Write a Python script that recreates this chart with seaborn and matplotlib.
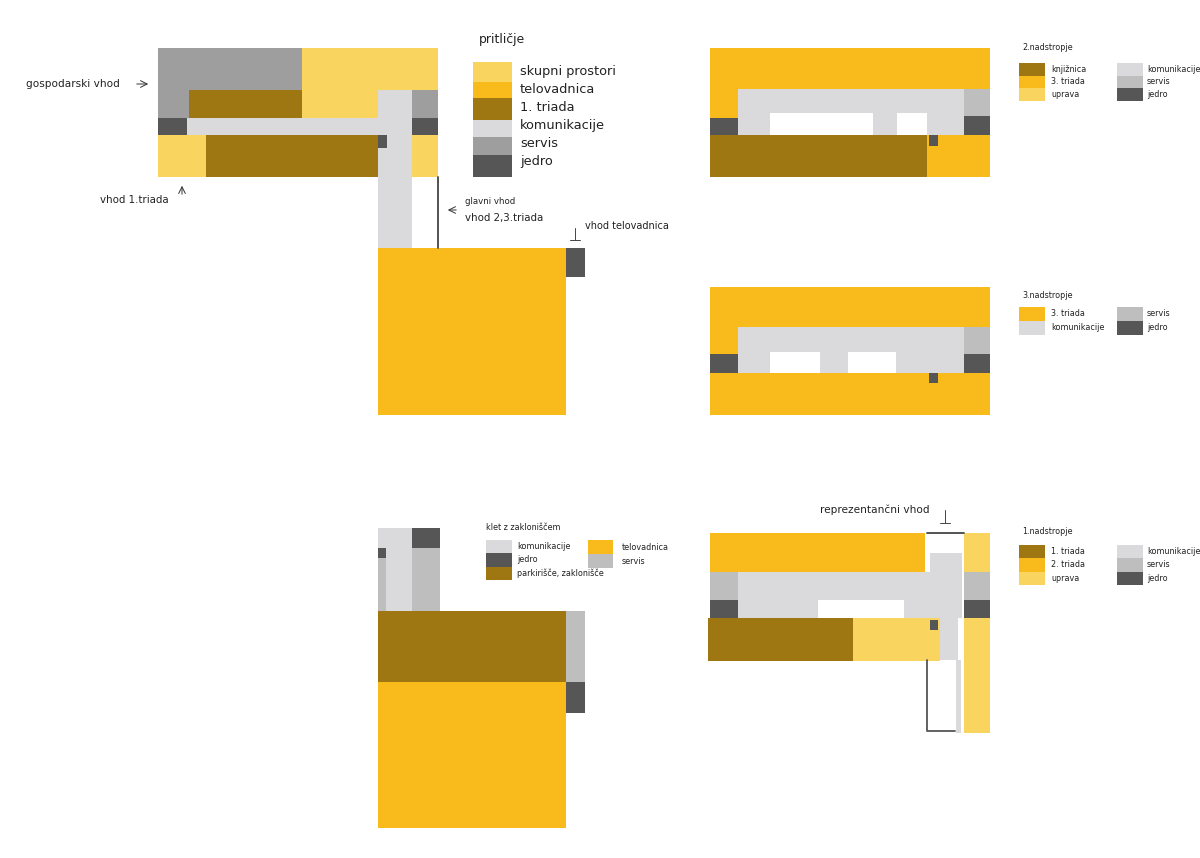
import matplotlib
matplotlib.use("Agg")
import matplotlib.pyplot as plt
import seaborn as sns

# --- colours per room type ---
use_names = ["skupni", "telovadnica", "triada", "komunikacije", "servis", "servis2", "jedro", "prazno"]
use_colors = ["#F9D45F", "#F9BA1C", "#9E7712", "#DADADC", "#9E9E9E", "#BEBEBE", "#565656", "#FFFFFF"]

# --- floor plans: room edges (left, right, top, bottom, type) ---
prtlicje_x0 = [158, 189, 189, 302, 302, 158, 187, 158, 206, 378, 412, 412, 412, 412, 378, 566, 378]
prtlicje_x1 = [189, 302, 302, 438, 378, 187, 378, 206, 378, 412, 438, 438, 438, 438, 566, 585, 387]
prtlicje_y0 = [48, 48, 90, 48, 88, 118, 118, 135, 135, 90, 90, 118, 135, 177, 248, 248, 135]
prtlicje_y1 = [118, 90, 118, 90, 118, 135, 135, 177, 177, 248, 118, 135, 177, 248, 415, 277, 148]
prtlicje_use = ["servis", "servis", "triada", "skupni", "skupni", "jedro", "komunikacije", "skupni", "triada",
                "komunikacije", "servis", "jedro", "skupni", "prazno", "telovadnica", "jedro", "jedro"]

drugo_x0 = [710, 710, 738, 770, 897, 964, 710, 964, 710, 927, 929]
drugo_x1 = [990, 738, 964, 873, 927, 990, 738, 990, 927, 990, 938]
drugo_y0 = [48, 89, 89, 113, 113, 89, 118, 116, 135, 135, 135]
drugo_y1 = [89, 118, 135, 135, 135, 116, 135, 135, 177, 177, 146]
drugo_use = ["telovadnica", "telovadnica", "komunikacije", "prazno", "prazno", "servis2", "jedro", "jedro",
             "triada", "telovadnica", "jedro"]

tretje_x0 = [710, 710, 738, 770, 848, 964, 710, 964, 710, 929]
tretje_x1 = [990, 738, 964, 820, 896, 990, 738, 990, 990, 938]
tretje_y0 = [287, 327, 327, 352, 352, 327, 354, 354, 373, 373]
tretje_y1 = [327, 354, 373, 373, 373, 354, 373, 373, 415, 383]
tretje_use = ["telovadnica", "telovadnica", "komunikacije", "prazno", "prazno", "servis2", "jedro", "jedro",
              "telovadnica", "jedro"]

prvo_x0 = [710, 710, 710, 738, 818, 930, 940, 956, 708, 853, 964, 964, 964, 964, 930]
prvo_x1 = [925, 738, 738, 962, 904, 962, 958, 961, 853, 940, 990, 990, 990, 990, 938]
prvo_y0 = [533, 572, 600, 572, 600, 553, 618, 660, 618, 618, 533, 572, 600, 618, 620]
prvo_y1 = [572, 600, 618, 618, 618, 618, 660, 733, 661, 661, 572, 600, 618, 733, 630]
prvo_use = ["telovadnica", "servis2", "jedro", "komunikacije", "prazno", "komunikacije", "komunikacije",
            "komunikacije", "triada", "skupni", "skupni", "servis2", "jedro", "skupni", "jedro"]

klet_x0 = [378, 378, 386, 412, 412, 378, 378, 566, 566, 378]
klet_x1 = [412, 386, 412, 440, 440, 386, 566, 585, 585, 566]
klet_y0 = [528, 558, 548, 548, 528, 548, 611, 611, 682, 682]
klet_y1 = [548, 611, 611, 611, 548, 558, 682, 682, 713, 828]
klet_use = ["komunikacije", "servis2", "komunikacije", "servis2", "jedro", "jedro", "triada", "servis2", "jedro",
            "telovadnica"]

# --- legends ---
prtlicje_labels = ["skupni prostori", "telovadnica", "1. triada", "komunikacije", "servis", "jedro"]
prtlicje_keys = ["skupni", "telovadnica", "triada", "komunikacije", "servis", "jedro"]
prtlicje_edges = [62, 82, 98, 120, 137, 155, 177]

annotations = ["gospodarski vhod", "vhod 1.triada", "glavni vhod", "vhod 2,3.triada", "vhod telovadnica",
               "reprezentančni vhod"]
note_x = [26, 100, 465, 465, 585, 820]
note_y = [84, 200, 201, 218, 226, 510]
note_size = [7.6, 7.4, 6.2, 7.4, 7.0, 7.6]

sns.set_theme(style="white")
palette = dict(zip(use_names, sns.color_palette(use_colors)))

fig, ax = plt.subplots(figsize=(12, 8.58), dpi=100)
fig.subplots_adjust(0, 0, 1, 1)
ax.set_xlim(0, 1200)
ax.set_ylim(858, 0)
ax.axis("off")


def rooms(x0, x1, y0, y1, use):
    # vsak prostor je en stolpec, risan od zgornjega roba
    for a, b, c, d, u in zip(x0, x1, y0, y1, use):
        ax.bar(a, d - c, width=b - a, bottom=c, align="edge", color=palette[u], linewidth=0)


def swatches(x, y, h, keys, labels, size=5.8, w=26, gap=6):
    for i, (k, lab) in enumerate(zip(keys, labels)):
        ax.bar(x, h, width=w, bottom=y + i * h, align="edge", color=palette[k], linewidth=0)
        ax.text(x + w + gap, y + i * h + h / 2, lab, fontsize=size, va="center", color="#222222")


rooms(prtlicje_x0, prtlicje_x1, prtlicje_y0, prtlicje_y1, prtlicje_use)
rooms(drugo_x0, drugo_x1, drugo_y0, drugo_y1, drugo_use)
rooms(tretje_x0, tretje_x1, tretje_y0, tretje_y1, tretje_use)
rooms(prvo_x0, prvo_x1, prvo_y0, prvo_y1, prvo_use)
rooms(klet_x0, klet_x1, klet_y0, klet_y1, klet_use)

# temne linije pri vhodih
ax.plot([438, 438], [177, 248], color="#444444", lw=1.3)
ax.plot([927, 964], [533, 533], color="#444444", lw=1.3)
ax.plot([927, 927, 955], [660, 731, 731], color="#555555", lw=1.3)

# glavna legenda
ax.text(479, 40, "pritličje", fontsize=8.9, va="center", color="#222222")
for i, (k, lab) in enumerate(zip(prtlicje_keys, prtlicje_labels)):
    top, bottom = prtlicje_edges[i], prtlicje_edges[i + 1]
    ax.bar(473, bottom - top, width=39, bottom=top, align="edge", color=palette[k], linewidth=0)
    ax.text(520, 71 + i * 18.2, lab, fontsize=9.3, va="center", color="#222222")

# manjse legende
ax.text(1022, 48, "2.nadstropje", fontsize=5.8, va="center", color="#222222")
swatches(1019, 63, 12.5, ["triada", "telovadnica", "skupni"], ["knjižnica", "3. triada", "uprava"])
swatches(1117, 63, 12.5, ["komunikacije", "servis2", "jedro"], ["komunikacije", "servis", "jedro"], gap=4)

ax.text(1022, 295, "3.nadstropje", fontsize=5.8, va="center", color="#222222")
swatches(1019, 307, 14, ["telovadnica", "komunikacije"], ["3. triada", "komunikacije"])
swatches(1117, 307, 14, ["servis2", "jedro"], ["servis", "jedro"], gap=4)

ax.text(1022, 532, "1.nadstropje", fontsize=5.8, va="center", color="#222222")
swatches(1019, 545, 13.3, ["triada", "telovadnica", "skupni"], ["1. triada", "2. triada", "uprava"])
swatches(1117, 545, 13.3, ["komunikacije", "servis2", "jedro"], ["komunikacije", "servis", "jedro"], gap=4)

ax.text(486, 527, "klet z zakloniščem", fontsize=5.8, va="center", color="#222222")
swatches(486, 540, 13.3, ["komunikacije", "jedro", "triada"], ["komunikacije", "jedro", "parkirišče, zaklonišče"], gap=5)
swatches(588, 540, 14, ["telovadnica", "servis2"], ["telovadnica", "servis"], w=25, gap=9)

# opisi vhodov
for lab, x, y, s in zip(annotations, note_x, note_y, note_size):
    ax.text(x, y, lab, fontsize=s, va="center", color="#222222")

# puscice
ax.annotate("", xy=(151, 84), xytext=(134, 84), arrowprops=dict(arrowstyle="->", lw=0.7, color="#333333"))
ax.annotate("", xy=(182, 183), xytext=(182, 197), arrowprops=dict(arrowstyle="->", lw=0.7, color="#333333"))
ax.annotate("", xy=(445, 210), xytext=(459, 210), arrowprops=dict(arrowstyle="->", lw=0.7, color="#333333"))
ax.plot([575, 575], [228, 240], color="#444444", lw=0.7)
ax.plot([570, 580], [240, 240], color="#444444", lw=0.7)
ax.plot([945, 945], [510, 523], color="#444444", lw=0.7)
ax.plot([940, 950], [523, 523], color="#444444", lw=0.7)

fig.savefig("out.png", dpi=100, facecolor="white")
